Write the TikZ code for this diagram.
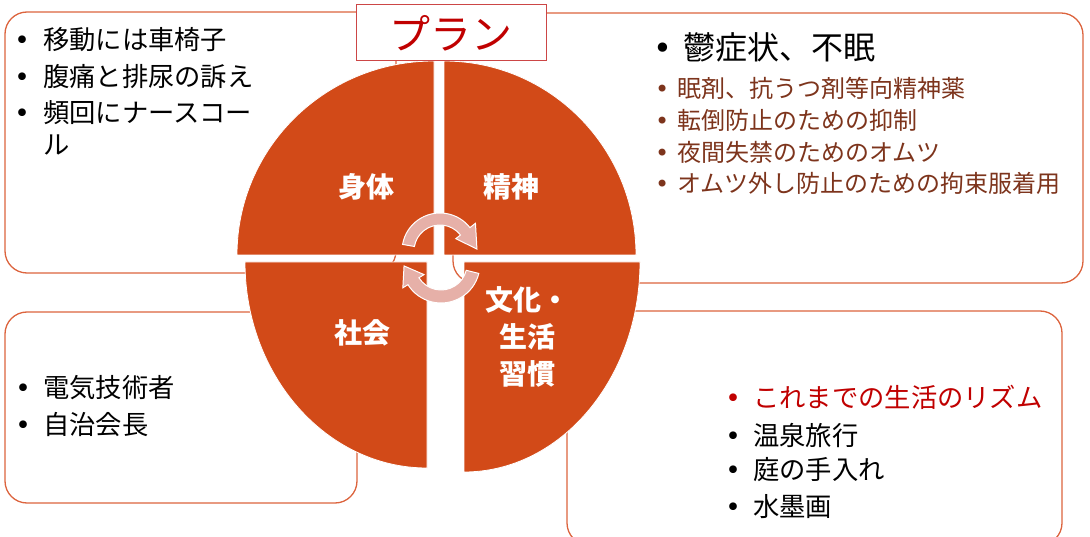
\documentclass[tikz,border=0pt]{standalone}
\usepackage{fontspec}
\usetikzlibrary{calc}
\newfontfamily\jp{Noto Sans CJK JP}
\newfontfamily\djv{DejaVu Sans}
\definecolor{pieorange}{RGB}{210,74,24}
\definecolor{boxline}{RGB}{220,100,62}
\definecolor{arrowpink}{RGB}{230,176,168}
\definecolor{subbrown}{RGB}{125,52,28}
\definecolor{titlered}{RGB}{192,0,0}
\definecolor{titleline}{RGB}{204,70,70}
\newcommand\bl[2]{\llap{\makebox[0pt][c]{\djv #2}\hspace{#1pt}}}
\begin{document}
\begin{tikzpicture}[x=1pt,y=-1pt,
  panel/.style={draw=boxline, line width=1.3pt, rounded corners=22pt},
  wedge/.style={fill=pieorange, draw=white, line width=0.8pt},
  cyc/.style={fill=arrowpink, draw=white, line width=1pt},
  pl/.style={text=white, font=\jp\bfseries\fontsize{28}{37}\selectfont, align=center, inner sep=0pt},
  itemA/.style={anchor=west, inner sep=0pt, font=\jp\fontsize{26.3}{30}\selectfont},
  itemBig/.style={anchor=west, inner sep=0pt, font=\jp\fontsize{32}{36}\selectfont},
  itemSub/.style={anchor=west, inner sep=0pt, text=subbrown, font=\jp\fontsize{24}{28}\selectfont},
  titlebox/.style={draw=titleline, line width=1pt, fill=white, minimum width=190pt, minimum height=56pt, inner sep=0pt, text=titlered, font=\jp\fontsize{41}{44}\selectfont}
]
\useasboundingbox (0,0) rectangle (1090,537);

% panels
\draw[panel] (5,12) rectangle (396,273);
\draw[panel] (453,13) rectangle (1083,283);
\draw[panel] (5,312) rectangle (357,503);
\draw[panel] (567,311) rectangle (1062,545);

% pie quadrants
\draw[wedge] (434,255) -- (237,255) arc[start angle=180, end angle=270, x radius=197, y radius=194] -- cycle;
\draw[wedge] (444,255) -- (444,61) arc[start angle=270, end angle=360, x radius=192, y radius=194] -- cycle;
\draw[wedge] (427,262) -- (245,262) arc[start angle=180, end angle=90, x radius=182, y radius=206] -- cycle;
\draw[wedge] (464,262) -- (640,262) arc[start angle=0, end angle=90, x radius=176, y radius=210] -- cycle;

% cycle arrows
\coordinate (T) at (440,251);
\coordinate (B) at (441,264);
\draw[cyc] ($(T)+(190:38)$) arc[start angle=190, end angle=322, radius=38]
  -- ($(T)+(322:45)$) -- ($(T)+(357:37)$) -- ($(T)+(322:20)$) -- ($(T)+(322:26)$)
  arc[start angle=322, end angle=190, radius=26] -- cycle;
\draw[cyc] ($(B)+(14:39)$) arc[start angle=14, end angle=148, radius=39]
  -- ($(B)+(148:45)$) -- ($(B)+(177:37)$) -- ($(B)+(148:20)$) -- ($(B)+(148:26)$)
  arc[start angle=148, end angle=14, radius=26] -- cycle;

% pie labels
\node[pl] (body) at (366,187) {身体};
\node[pl] (mind) at (511,187) {精神};
\node[pl] (soc) at (362,333) {社会};
\node[pl] (cult) at (527,337) {文化・\\生活\\習慣};

% title
\node[titlebox] (title) at (451,33) {プラン};

% top-left list
\node[itemA] (a1) at (43,40) {\bl{21}{•}移動には車椅子};
\node[itemA] (a2) at (43,77) {\bl{21}{•}腹痛と排尿の訴え};
\node[itemA] (a3) at (43,113) {\bl{21}{•}頻回にナースコー};
\node[itemA] (a4) at (43,145) {ル};

% top-right list
\node[itemBig] (b0) at (683,47) {\bl{20}{•}鬱症状、不眠};
\node[itemSub] (b1) at (677,88) {\bl{15}{•}眠剤、抗うつ剤等向精神薬};
\node[itemSub] (b2) at (677,120) {\bl{15}{•}転倒防止のための抑制};
\node[itemSub] (b3) at (677,152) {\bl{15}{•}夜間失禁のためのオムツ};
\node[itemSub] (b4) at (677,183) {\bl{15}{•}オムツ外し防止のための拘束服着用};

% bottom-left list
\node[itemA] (c1) at (43,388) {\bl{20}{•}電気技術者};
\node[itemA] (c2) at (43,425) {\bl{20}{•}自治会長};

% bottom-right list
\node[itemA, text=titlered] (d1) at (753,397) {\bl{20}{•}これまでの生活のリズム};
\node[itemA] (d2) at (753,435) {\bl{20}{•}温泉旅行};
\node[itemA] (d3) at (753,470) {\bl{20}{•}庭の手入れ};
\node[itemA] (d4) at (753,507) {\bl{20}{•}水墨画};
\end{tikzpicture}
\end{document}
